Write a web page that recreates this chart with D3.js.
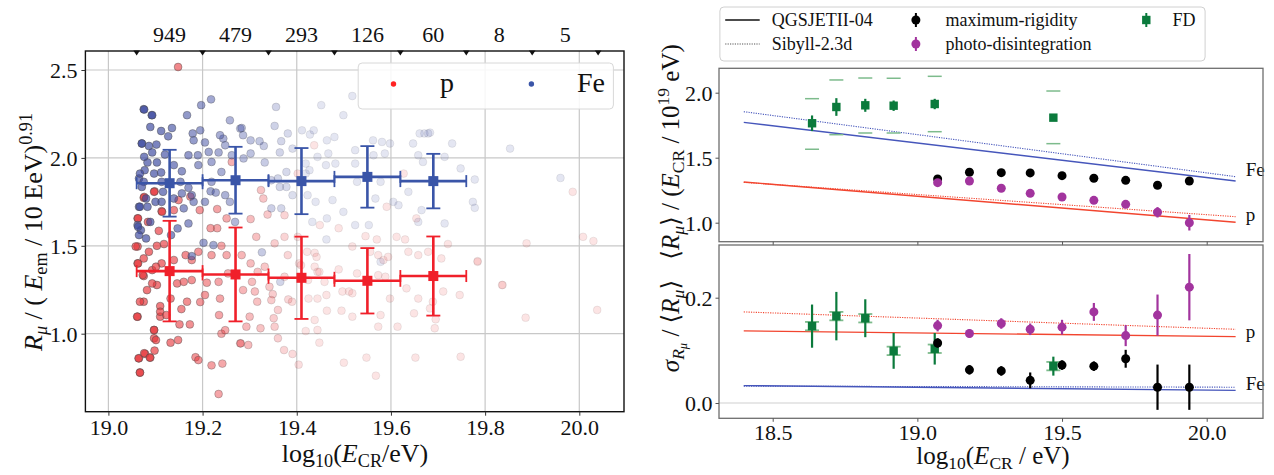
<!DOCTYPE html>
<html><head><meta charset="utf-8">
<script src="https://cdn.jsdelivr.net/npm/d3@7"></script>
<style>
body{margin:0;background:#fff}
svg{display:block}
text{font-family:"Liberation Serif","DejaVu Serif",serif;fill:#111}
</style>
</head><body>
<svg id="c" width="1274" height="475"></svg>
<script>
// ---------------- DATA ----------------
const binEdges = [19.06,19.2,19.34,19.48,19.62,19.76,19.9,20.04];
const binCounts = ["949","479","293","126","60","8","5"];
const leftXTicks = [19.0,19.2,19.4,19.6,19.8,20.0];
const leftYTicks = [1.0,1.5,2.0,2.5];

const binCenters = [19.13,19.27,19.41,19.55,19.69];
const binHalfWidth = [0.07,0.07,0.07,0.07,0.07];
const feMean = [1.856,1.873,1.868,1.892,1.868];
const feErr  = [0.19,0.19,0.188,0.175,0.155];
const pMean  = [1.356,1.337,1.318,1.301,1.328];
const pErr   = [0.286,0.267,0.234,0.186,0.225];

// scatter events [log10 E, R_mu]
const pPts = [
[19.062,1.496],[19.075,1.428],[19.062,1.40],[19.075,1.328],[19.093,1.362],[19.118,1.51],[19.086,1.466],[19.113,1.40],
[19.103,1.277],[19.075,1.182],[19.11,1.157],[19.062,1.097],[19.11,1.097],[19.097,1.021],[19.097,0.974],[19.132,0.949],
[19.148,0.964],[19.065,0.86],[19.078,0.885],[19.089,0.864],[19.098,0.904],[19.067,0.78],[19.185,0.866],[19.191,0.85],
[19.219,0.82],[19.242,0.83],[19.234,0.657],[19.155,1.14],[19.173,1.053],[19.151,1.053],[19.132,1.20],[19.167,1.182],
[19.146,1.286],[19.16,1.295],[19.177,1.305],[19.177,1.419],[19.191,1.466],[19.164,1.447],[19.139,1.419],[19.103,1.50],
[19.205,1.22],[19.195,1.18],[19.209,1.29],[19.234,1.295],[19.237,1.20],[19.235,1.106],[19.24,1.0],[19.248,1.02],
[19.254,1.343],[19.251,1.447],[19.24,1.50],[19.28,0.945],[19.219,1.447],
[19.148,2.517],[19.098,1.81],[19.075,1.773],[19.062,1.656],[19.113,1.697],[19.107,1.585],[19.231,1.709],[19.251,1.656],
[19.231,1.6],[19.139,1.703],[19.262,1.977],[19.174,1.78],[19.194,1.703],[19.217,1.6],
[19.409,1.39],[19.444,1.352],[19.489,1.366],[19.511,1.24],[19.528,1.343],[19.573,1.333],[19.588,1.324],[19.598,1.20],
[19.633,1.258],[19.658,1.20],[19.689,1.182],[19.649,1.116],[19.683,1.144],[19.711,1.24],[19.746,1.22],[19.637,1.466],
[19.658,1.447],[19.679,1.466],[19.707,1.428],[19.721,1.51],[19.784,1.409],[19.837,1.277],[19.612,1.551],[19.63,1.536],
[19.57,1.536],[19.546,1.555],[19.518,1.496],[19.573,1.447],[19.693,1.031],[19.614,1.04],[19.573,1.04],[19.578,1.106],
[19.518,1.097],[19.495,1.131],[19.464,1.131],[19.463,1.22],[19.438,1.078],[19.444,1.021],[19.419,1.015],[19.448,0.949],
[19.36,0.974],[19.373,0.907],[19.391,0.885],[19.404,0.824],[19.5,0.835],[19.548,0.864],[19.568,0.761],[19.652,0.864],
[19.748,0.869],[19.36,1.135],[19.351,1.088],[19.353,1.04],[19.382,1.195],[19.39,1.182],[19.425,1.20],[19.444,1.20],
[19.424,1.305],[19.438,1.381],[19.422,1.466],[19.438,1.46],[19.459,1.295],[19.497,1.24],[19.518,1.23],[19.556,1.466],
[19.584,1.419],[19.594,1.437],[19.695,1.082],[19.3,1.097],[19.316,1.182],[19.323,1.031],[19.286,1.248],[19.311,1.24],
[19.342,1.267],[19.349,1.225],[19.346,1.191],[19.317,1.352],[19.302,1.40],[19.305,1.295],[19.332,1.381],[19.374,1.324],
[19.381,1.447],[19.402,1.551],[19.374,1.551],[19.353,1.514],[19.314,1.551],[19.283,1.447],[19.293,1.04],[19.281,0.945],
[19.297,0.936],[19.442,1.437],[19.448,1.352],[19.405,1.40],
[19.058,1.496],[19.063,1.40],[19.073,1.334],[19.067,1.182],[19.061,1.097],[19.064,0.86],[19.067,0.778],[19.076,0.889],
[19.088,0.864],[19.097,1.021],[19.101,0.964],[19.082,1.248],[19.093,1.286],[19.101,1.381],[19.11,1.125],[19.123,1.106],
[19.063,1.656],[19.076,1.778],[19.097,1.807],[19.084,1.636],[19.114,1.693],[19.149,1.76],
[19.437,2.072],[19.329,1.769],[19.302,1.652],[19.374,1.674],[19.338,1.678],[19.402,1.911],[19.449,1.618],[19.489,1.6],
[19.591,1.722],[19.627,1.911],[19.654,1.656],[19.324,1.817],
[19.986,1.807],[20.008,1.551],[20.03,1.527],[20.038,1.135],[19.888,1.514],[19.886,1.091],[19.836,1.277],[19.784,1.413]
];
const fePts = [
[19.075,2.277],[19.092,2.243],[19.089,2.176],[19.112,2.153],[19.127,2.123],[19.135,2.17],[19.071,2.082],[19.086,2.068],
[19.102,2.076],[19.093,2.031],[19.12,2.019],[19.077,1.93],[19.097,1.911],[19.112,1.917],[19.139,1.959],[19.156,1.924],
[19.083,1.974],[19.103,1.974],[19.065,1.883],[19.075,1.864],[19.113,1.864],[19.153,1.864],[19.17,1.83],[19.177,1.788],
[19.156,1.798],[19.116,1.807],[19.1,1.75],[19.113,1.75],[19.065,1.722],[19.083,1.722],[19.139,1.769],[19.16,1.713],
[19.181,1.75],[19.179,2.139],[19.195,2.157],[19.205,2.088],[19.181,2.10],[19.167,2.243],[19.197,2.30],[19.218,2.333],
[19.213,2.034],[19.234,2.031],[19.219,1.977],[19.19,2.015],[19.191,1.959],[19.17,2.015],[19.244,2.11],[19.258,2.214],
[19.237,2.129],[19.248,2.072],[19.28,2.167],[19.219,1.864],[19.217,1.81],[19.228,1.803],[19.248,1.788],[19.205,1.75],
[19.258,1.75],[19.269,1.636],[19.24,1.92],[19.262,2.015],[19.062,1.618],[19.089,1.636],[19.147,1.599],[19.17,1.627],
[19.069,1.589],
[19.356,2.29],[19.452,2.30],[19.499,2.243],[19.518,2.352],[19.353,2.182],[19.283,2.17],[19.286,2.129],[19.302,2.10],
[19.321,2.095],[19.33,2.068],[19.302,2.025],[19.332,1.974],[19.287,1.997],[19.381,2.139],[19.367,2.095],[19.391,2.053],
[19.364,2.031],[19.411,2.157],[19.428,2.133],[19.436,2.157],[19.464,2.10],[19.48,2.119],[19.467,2.025],[19.419,1.968],
[19.444,2.006],[19.462,1.959],[19.482,1.968],[19.378,1.92],[19.36,1.883],[19.346,1.873],[19.364,1.835],[19.378,1.835],
[19.391,1.788],[19.346,1.713],[19.367,1.713],[19.427,1.93],[19.419,1.911],[19.423,1.788],[19.44,1.75],[19.476,1.76],
[19.499,1.693],[19.464,1.656],[19.433,1.636],[19.524,2.044],[19.524,1.968],[19.562,2.10],[19.581,2.091],[19.563,2.015],
[19.587,2.025],[19.598,2.082],[19.528,1.864],[19.567,1.769],[19.578,1.864],[19.605,1.75],[19.637,1.807],[19.616,1.731],
[19.647,2.082],[19.661,2.139],[19.683,2.144],[19.658,2.015],[19.668,1.977],[19.665,1.703],[19.658,1.636],[19.553,1.618],
[19.524,1.618],[19.853,2.053],[19.96,1.886],
[19.778,1.877],[19.774,1.75],[19.778,1.716],[19.748,1.94],[19.714,2.006],[19.679,2.139],[19.671,2.139],[19.714,1.627],
[19.73,2.082],
[19.071,2.082],[19.076,2.006],[19.067,1.911],[19.071,1.835],[19.08,1.769],[19.067,1.722],[19.063,1.608],[19.076,2.275],
[19.093,2.243],
[19.065,1.561],[19.08,1.542],[19.133,1.561],[19.177,1.441],[19.202,1.517],[19.223,1.504],
[19.326,1.463],[19.365,1.295],[19.463,1.536],[19.578,1.409]
];

// Right panels
const rightXTicks = [18.5,19.0,19.5,20.0];
const rightTopYTicks = [1.0,1.5,2.0];
const rightBotYTicks = [0.0,0.2];
const modelX = [18.4,20.1];
const qgsFeMean = [1.772,1.321], sibFeMean = [1.854,1.354];
const qgsPMean  = [1.313,1.003], sibPMean  = [1.31,1.046];
const qgsFeSig  = [0.033,0.024], sibFeSig  = [0.032,0.030];
const qgsPSig   = [0.137,0.126], sibPSig   = [0.173,0.140];

const scenX = [19.07,19.18,19.29,19.39,19.5,19.61,19.72,19.83,19.94];
const rigMean = [1.336,1.388,1.385,1.383,1.362,1.342,1.326,1.288,1.321];
const rigMeanErr = [0.012,0.012,0.012,0.012,0.012,0.012,0.012,0.015,0.02];
const photoMean = [1.308,1.321,1.265,1.226,1.198,1.172,1.141,1.08,1.0];
const photoMeanErr = [0.015,0.015,0.015,0.015,0.015,0.015,0.02,0.04,0.06];
const rigSigma = [0.114,0.063,0.061,0.043,0.072,0.070,0.084,0.030,0.030];
const rigSigmaErr = [0.009,0.009,0.009,0.015,0.009,0.009,0.017,0.043,0.043];
const photoSigma = [0.147,0.132,0.151,0.140,0.144,0.173,0.128,0.167,0.220];
const photoSigmaErr = [0.011,0.008,0.01,0.011,0.014,0.017,0.02,0.039,0.063];

const fdX = [18.636,18.72,18.82,18.918,19.06,19.47];
const fdMean = [1.765,1.89,1.903,1.9,1.913,1.808];
const fdMeanErr = [0.06,0.068,0.05,0.04,0.04,0];
const fdMeanSysHi = [1.954,2.098,2.113,2.111,2.126,2.013];
const fdMeanSysLo = [1.565,1.677,1.69,1.69,1.7,1.608];
const fdSigma = [0.146,0.165,0.161,0.099,0.103,0.070];
const fdSigmaErr = [0.041,0.046,0.036,0.034,0.03,0.018];
const fdSigmaSys = [0.008,0.008,0.008,0.008,0.008,0.008];

// ---------------- DRAW ----------------
const svg = d3.select("#c");
const RED="#f0202a", BLUE="#3a55a8", PTRED="#e8383d", PTBLUE="#3c4aa0";
const MAG="#a2349e", GRN="#0b7a3c", GRNL="#7dbb8c", LBLUE="#4656bb", LRED="#f2452f";

// parts: {t, i:italic, s: shift in em (negative = down), fs: size factor}
function mathText(g, x, y, parts, size, opts={}){
  const t = g.append("text").attr("x",x).attr("y",y).attr("font-size",size)
    .attr("text-anchor", opts.anchor||"middle");
  if(opts.rotate) t.attr("transform",`rotate(${opts.rotate},${x},${y})`);
  parts.forEach(p=>{
    const s = t.append("tspan").text(p.t);
    if(p.i) s.attr("font-style","italic");
    if(p.s!==undefined){ s.attr("baseline-shift", (p.s*size).toFixed(1)+"px").attr("font-size", (p.fs||0.7)*size); }
  });
  return t;
}
const SUB=-0.2, SUP=0.4;

// ===== LEFT PANEL =====
const L = {x0:85.4,x1:624,y0:51,y1:411.7};
const xL = d3.scaleLinear().domain([19,20]).range([108.4,579.3]);
const yL = d3.scaleLinear().domain([1.0,2.5]).range([333.7,70]);
const gL = svg.append("g");
svg.append("clipPath").attr("id","clipL").append("rect")
  .attr("x",L.x0).attr("y",L.y0).attr("width",L.x1-L.x0).attr("height",L.y1-L.y0);

gL.append("g").selectAll("line").data(leftXTicks).join("line")
  .attr("x1",d=>xL(d)).attr("x2",d=>xL(d)).attr("y1",L.y0).attr("y2",L.y1)
  .attr("stroke","#c8c8c8").attr("stroke-width",1.2);
gL.append("g").selectAll("line").data(leftYTicks).join("line")
  .attr("y1",d=>yL(d)).attr("y2",d=>yL(d)).attr("x1",L.x0).attr("x2",L.x1)
  .attr("stroke","#c8c8c8").attr("stroke-width",1.2);

const op = d3.scaleLinear().domain([19.1,19.42]).range([0.8,0.16]).clamp(true);
const sc = gL.append("g").attr("clip-path","url(#clipL)");
function scatter(data, color){
  sc.append("g").selectAll("circle").data(data).join("circle")
    .attr("cx",d=>xL(d[0])).attr("cy",d=>yL(d[1])).attr("r",3.9)
    .attr("fill",color).attr("fill-opacity",d=>op(d[0])*0.85)
    .attr("stroke","#505050").attr("stroke-opacity",d=>op(d[0])*0.8).attr("stroke-width",0.8);
}
scatter(pPts, PTRED);
scatter(fePts, PTBLUE);

function binnedErr(g, means, errs, color){
  binCenters.forEach((c,i)=>{
    const xa=xL(c-binHalfWidth[i]), xb=xL(c+binHalfWidth[i]);
    const yc=yL(means[i]), ya=yL(means[i]+errs[i]), yb=yL(means[i]-errs[i]);
    const cx=xL(c);
    const s=(x1,y1,x2,y2,w)=>g.append("line").attr("x1",x1).attr("y1",y1).attr("x2",x2).attr("y2",y2)
      .attr("stroke",color).attr("stroke-width",w);
    s(xa,yc,xb,yc,2.6); s(cx,ya,cx,yb,2.6);
    s(cx-7,ya,cx+7,ya,1.8); s(cx-7,yb,cx+7,yb,1.8);
    s(xa,yc-6,xa,yc+6,1.8); s(xb,yc-6,xb,yc+6,1.8);
    g.append("rect").attr("x",cx-5).attr("y",yc-5).attr("width",10).attr("height",10).attr("fill",color);
  });
}
binnedErr(gL.append("g"), feMean, feErr, BLUE);
binnedErr(gL.append("g"), pMean, pErr, RED);

gL.append("rect").attr("x",L.x0).attr("y",L.y0).attr("width",L.x1-L.x0).attr("height",L.y1-L.y0)
  .attr("fill","none").attr("stroke","#111").attr("stroke-width",1.4);

const axB = gL.append("g").attr("transform",`translate(0,${L.y1})`)
  .call(d3.axisBottom(xL).tickValues(leftXTicks).tickFormat(d3.format(".1f")).tickSize(4).tickPadding(4));
const axLft = gL.append("g").attr("transform",`translate(${L.x0},0)`)
  .call(d3.axisLeft(yL).tickValues(leftYTicks).tickFormat(d3.format(".1f")).tickSize(4).tickPadding(4));
[axB,axLft].forEach(a=>{a.select(".domain").remove(); a.selectAll("line").attr("stroke","#333");
  a.selectAll("text").attr("font-size",22).attr("font-family","Liberation Serif").attr("fill","#111");});
axLft.selectAll("text").attr("dy","0.36em");

gL.append("g").selectAll("path").data(binEdges).join("path")
  .attr("d",d=>`M${xL(d)-3.3},${L.y0-0.5} L${xL(d)+3.3},${L.y0-0.5} L${xL(d)},${L.y0+4.5} Z`).attr("fill","#111");
gL.append("g").selectAll("text").data(binCounts).join("text")
  .attr("x",(d,i)=>xL((binEdges[i]+binEdges[i+1])/2)).attr("y",41.5)
  .attr("text-anchor","middle").attr("font-size",22).text(d=>d);

const lg = gL.append("g");
lg.append("rect").attr("x",358.2).attr("y",63).attr("width",255.2).attr("height",46).attr("rx",4)
  .attr("fill","#fff").attr("fill-opacity",0.85).attr("stroke","#d8d8d8");
lg.append("circle").attr("cx",393.5).attr("cy",84).attr("r",2.7).attr("fill","#f22");
lg.append("text").attr("x",440).attr("y",92).attr("font-size",28).text("p");
lg.append("circle").attr("cx",531.4).attr("cy",84).attr("r",2.7).attr("fill",BLUE);
lg.append("text").attr("x",577).attr("y",92).attr("font-size",28).text("Fe");

mathText(svg, 355, 462, [{t:"log"},{t:"10",s:SUB},{t:"("},{t:"E",i:1},{t:"CR",s:SUB},{t:"/eV)"}], 26);
mathText(svg, 42, 232, [{t:"R",i:1},{t:"μ",i:1,s:SUB},{t:" / ( "},{t:"E",i:1},{t:"em",s:SUB},{t:" / 10 EeV)"},{t:"0.91",s:SUP}], 26, {rotate:-90});

// ===== RIGHT PANELS =====
const RX0=719, RX1=1263;
const T = {y0:68.3,y1:241.7}, B = {y0:245,y1:418.3};
const xR = d3.scaleLinear().domain([18.5,20]).range([772.7,1206.7]);
const yT = d3.scaleLinear().domain([1.0,2.0]).range([222.7,92.7]);
const yB = d3.scaleLinear().domain([0,0.2]).range([403,297.7]);
const gR = svg.append("g");

gR.append("line").attr("x1",RX0).attr("x2",RX1).attr("y1",yB(0)).attr("y2",yB(0)).attr("stroke","#d0d0d0").attr("stroke-width",1.2);

function modelLine(g, ys, yS, color, dotted){
  const line = d3.line().x((d,i)=>xR(modelX[i])).y(d=>yS(d));
  g.append("path").attr("d",line(ys)).attr("fill","none").attr("stroke",color)
    .attr("stroke-width",dotted?1.1:1.4).attr("stroke-dasharray",dotted?"1.2,1.2":null);
}
modelLine(gR, sibFeMean, yT, LBLUE, true);
modelLine(gR, qgsFeMean, yT, LBLUE, false);
modelLine(gR, sibPMean, yT, LRED, true);
modelLine(gR, qgsPMean, yT, LRED, false);
modelLine(gR, sibFeSig, yB, LBLUE, true);
modelLine(gR, qgsFeSig, yB, LBLUE, false);
modelLine(gR, sibPSig, yB, LRED, true);
modelLine(gR, qgsPSig, yB, LRED, false);

gR.append("text").attr("x",1245.7).attr("y",176).attr("font-size",19).attr("fill",LBLUE).text("Fe");
gR.append("text").attr("x",1245.7).attr("y",221).attr("font-size",19).attr("fill",LRED).text("p");
gR.append("text").attr("x",1245.7).attr("y",390).attr("font-size",19).attr("fill",LBLUE).text("Fe");
gR.append("text").attr("x",1245.7).attr("y",338).attr("font-size",19).attr("fill",LRED).text("p");

function pts(g, xs, ys, es, yS, color, shape){
  xs.forEach((x,i)=>{
    const cx=xR(x), cy=yS(ys[i]);
    if(es[i]>0) g.append("line").attr("x1",cx).attr("x2",cx).attr("y1",yS(ys[i]+es[i])).attr("y2",yS(ys[i]-es[i]))
      .attr("stroke",color).attr("stroke-width",2.2);
    if(shape==="sq") g.append("rect").attr("x",cx-4.2).attr("y",cy-4.2).attr("width",8.4).attr("height",8.4).attr("fill",color);
    else g.append("circle").attr("cx",cx).attr("cy",cy).attr("r",4.5).attr("fill",color);
  });
}
fdX.forEach((x,i)=>{
  const cx=xR(x);
  [fdMeanSysHi[i],fdMeanSysLo[i]].forEach(v=>gR.append("line").attr("x1",cx-7).attr("x2",cx+7)
    .attr("y1",yT(v)).attr("y2",yT(v)).attr("stroke",GRNL).attr("stroke-width",1.5));
  [fdSigma[i]+fdSigmaSys[i],fdSigma[i]-fdSigmaSys[i]].forEach(v=>gR.append("line").attr("x1",cx-7).attr("x2",cx+7)
    .attr("y1",yB(v)).attr("y2",yB(v)).attr("stroke",GRNL).attr("stroke-width",1.8));
});
pts(gR, fdX, fdMean, fdMeanErr, yT, GRN, "sq");
pts(gR, scenX, rigMean, rigMeanErr, yT, "#000", "c");
pts(gR, scenX, photoMean, photoMeanErr, yT, MAG, "c");
pts(gR, fdX, fdSigma, fdSigmaErr, yB, GRN, "sq");
pts(gR, scenX, rigSigma, rigSigmaErr, yB, "#000", "c");
pts(gR, scenX, photoSigma, photoSigmaErr, yB, MAG, "c");

[[T,yT,rightTopYTicks],[B,yB,rightBotYTicks]].forEach(([P,yS,ticks],k)=>{
  gR.append("rect").attr("x",RX0).attr("y",P.y0).attr("width",RX1-RX0).attr("height",P.y1-P.y0)
    .attr("fill","none").attr("stroke","#6e6e6e").attr("stroke-width",1.3);
  const ax = gR.append("g").attr("transform",`translate(0,${P.y1})`)
    .call(d3.axisBottom(xR).tickValues(rightXTicks).tickFormat(k===1?d3.format(".1f"):()=>"").tickSize(3.5).tickPadding(3));
  const ay = gR.append("g").attr("transform",`translate(${RX0},0)`)
    .call(d3.axisLeft(yS).tickValues(ticks).tickFormat(d3.format(".1f")).tickSize(3.5).tickPadding(3));
  [ax,ay].forEach(a=>{a.select(".domain").remove(); a.selectAll("line").attr("stroke","#555");
    a.selectAll("text").attr("font-size",22).attr("font-family","Liberation Serif").attr("fill","#111");});
  ay.selectAll("text").attr("dy","0.36em");
});

mathText(svg, 993, 464, [{t:"log"},{t:"10",s:SUB},{t:"("},{t:"E",i:1},{t:"CR",s:SUB},{t:" / eV)"}], 25);
mathText(svg, 679, 152, [{t:"⟨"},{t:"R",i:1},{t:"μ",i:1,s:SUB},{t:"⟩ / ("},{t:"E",i:1},{t:"CR",s:SUB},{t:" / 10"},{t:"19",s:SUP},{t:" eV)"}], 25, {rotate:-90});
mathText(svg, 679, 326, [{t:"σ",i:1},{t:"R",i:1,s:SUB},{t:"μ",i:1,s:-0.3,fs:0.5},{t:" / ⟨"},{t:"R",i:1},{t:"μ",i:1,s:SUB},{t:"⟩"}], 25, {rotate:-90});

const rl = svg.append("g");
rl.append("rect").attr("x",719.9).attr("y",7).attr("width",485.2).attr("height",54).attr("rx",4)
  .attr("fill","#fff").attr("stroke","#d0d0d0");
rl.append("line").attr("x1",725.2).attr("x2",759.7).attr("y1",20).attr("y2",20).attr("stroke","#111").attr("stroke-width",1.4);
rl.append("line").attr("x1",725.2).attr("x2",759.7).attr("y1",44).attr("y2",44).attr("stroke","#555").attr("stroke-width",1.1).attr("stroke-dasharray","1.2,1.2");
rl.append("text").attr("x",771.8).attr("y",26).attr("font-size",18).text("QGSJETII-04");
rl.append("text").attr("x",771.8).attr("y",50).attr("font-size",18).text("Sibyll-2.3d");
[[915.9,20,"#000","c","maximum-rigidity",945.5],[915.9,44,MAG,"c","photo-disintegration",945.5],[1146.3,20,GRN,"sq","FD",1172.6]].forEach(([x,y,c,s,lab,tx])=>{
  rl.append("line").attr("x1",x).attr("x2",x).attr("y1",y-7).attr("y2",y+7).attr("stroke",c).attr("stroke-width",2);
  if(s==="sq") rl.append("rect").attr("x",x-4.2).attr("y",y-4.2).attr("width",8.4).attr("height",8.4).attr("fill",c);
  else rl.append("circle").attr("cx",x).attr("cy",y).attr("r",4.5).attr("fill",c);
  rl.append("text").attr("x",tx).attr("y",y+6).attr("font-size",18).text(lab);
});
</script>
</body></html>
